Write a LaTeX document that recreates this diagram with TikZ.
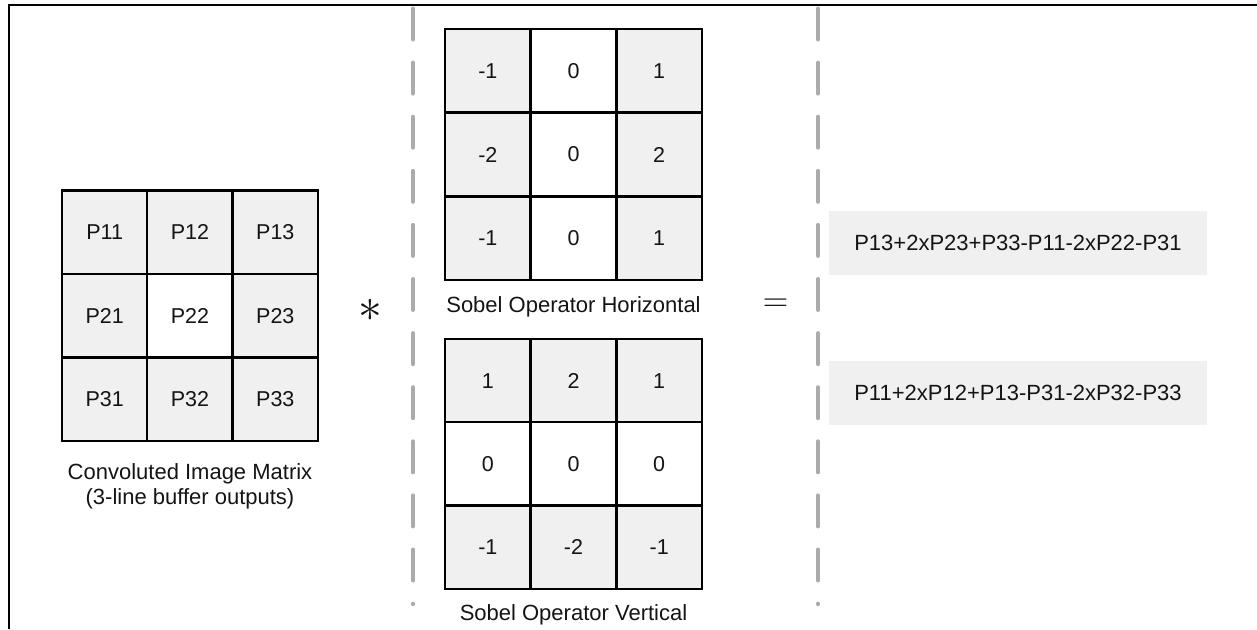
\documentclass[tikz,border=0pt]{standalone}
\usepackage{fontspec}
\setmainfont{Liberation Sans}
\definecolor{cellgray}{HTML}{F0F0F0}
\definecolor{dashgray}{HTML}{ABABAB}
\definecolor{ink}{HTML}{141414}
\tikzset{
  cell/.style={draw=black, line width=2.2pt, minimum width=85.5pt, minimum height=83.5pt,
    inner sep=0pt, outer sep=0pt, text=ink, font=\fontsize{21.5}{25}\selectfont, fill=cellgray},
  wcell/.style={cell, fill=white},
  caption/.style={text=ink, font=\fontsize{22}{25}\selectfont, align=center, inner sep=0pt},
  eqbox/.style={fill=cellgray, minimum width=378pt, minimum height=64pt, inner sep=0pt,
    text=ink, font=\fontsize{22}{25}\selectfont},
  sep/.style={draw=dashgray, line width=4pt, line cap=round, dash pattern=on 31pt off 23.1pt},
  frame/.style={line width=2.5pt, draw=black},
  opsym/.style={text=ink, inner sep=0pt, font=\fontsize{22}{22}\selectfont, scale=1.7},
}
\begin{document}
\begin{tikzpicture}[x=1pt, y=-1pt]
\useasboundingbox (0,0) rectangle (1257,629);
% frame (top and left)
\draw[frame] (9,629) -- (9,5) -- (1257,5);
% dashed separators
\draw[sep] (413,8.5) -- (413,604.1);
\draw[sep] (818,8.5) -- (818,604.1);
% convoluted image matrix
\foreach \r in {1,2,3}{
  \foreach \c in {1,2,3}{
    \ifnum\r\c=22
      \node[wcell] (m\r\c) at ({62+85.33*(\c-0.5)}, {190.5+83.5*(\r-0.5)}) {P\r\c};
    \else
      \node[cell] (m\r\c) at ({62+85.33*(\c-0.5)}, {190.5+83.5*(\r-0.5)}) {P\r\c};
    \fi
  }
}
\node[caption] (capm) at (190,486) {Convoluted Image Matrix\\(3-line buffer outputs)};
% Sobel horizontal
\foreach \r/\a/\b/\d in {1/-1/0/1, 2/-2/0/2, 3/-1/0/1}{
  \node[cell]  (h\r1) at ({445+85.67*0.5}, {29+83.67*(\r-0.5)}) {\a};
  \node[wcell] (h\r2) at ({445+85.67*1.5}, {29+83.67*(\r-0.5)}) {\b};
  \node[cell]  (h\r3) at ({445+85.67*2.5}, {29+83.67*(\r-0.5)}) {\d};
}
\node[caption] (caph) at (573.5,307) {Sobel Operator Horizontal};
% Sobel vertical
\foreach \c/\a/\b/\d in {1/1/0/-1, 2/2/0/-2, 3/1/0/-1}{
  \node[cell]  (v1\c) at ({445+85.67*(\c-0.5)}, {339+83.33*0.5}) {\a};
  \node[wcell] (v2\c) at ({445+85.67*(\c-0.5)}, {339+83.33*1.5}) {\b};
  \node[cell]  (v3\c) at ({445+85.67*(\c-0.5)}, {339+83.33*2.5}) {\d};
}
\node[caption] (capv) at (573.5,615) {Sobel Operator Vertical};
% operators
\node[opsym, scale=1.35] (ast) at (370,310) {$\ast$};
\node[opsym] (eq) at (775.5,305) {$=$};
% results
\node[eqbox] (gx) at (1018,243) {P13+2xP23+P33-P11-2xP22-P31};
\node[eqbox] (gy) at (1018,392.5) {P11+2xP12+P13-P31-2xP32-P33};
\end{tikzpicture}
\end{document}
